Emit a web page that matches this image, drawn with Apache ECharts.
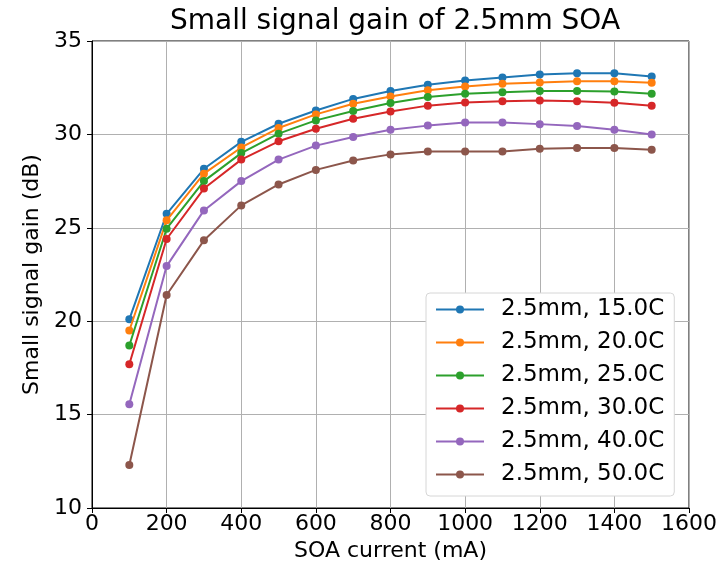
<!DOCTYPE html>
<html>
<head>
<meta charset="utf-8">
<script src="https://cdn.jsdelivr.net/npm/echarts@6/dist/echarts.min.js"></script>
<style>html,body{margin:0;padding:0;background:#fff}#c{width:728px;height:567px}</style>
</head>
<body>
<div id="c"></div>
<script>
const currents = [100,200,300,400,500,600,700,800,900,1000,1100,1200,1300,1400,1500];
const names = ['2.5mm, 15.0C','2.5mm, 20.0C','2.5mm, 25.0C','2.5mm, 30.0C','2.5mm, 40.0C','2.5mm, 50.0C'];
const g15 = [20.1,25.75,28.16,29.6,30.57,31.28,31.9,32.32,32.66,32.89,33.05,33.21,33.28,33.28,33.1];
const g20 = [19.5,25.4,27.9,29.3,30.34,31.07,31.64,32.03,32.36,32.57,32.71,32.78,32.85,32.85,32.77];
const g25 = [18.7,24.95,27.5,29.0,30.04,30.75,31.25,31.68,32.0,32.18,32.25,32.32,32.32,32.3,32.18];
const g30 = [17.7,24.4,27.1,28.65,29.63,30.3,30.84,31.23,31.54,31.71,31.78,31.82,31.77,31.7,31.54];
const g40 = [15.55,22.95,25.93,27.5,28.65,29.4,29.86,30.25,30.47,30.64,30.64,30.55,30.45,30.25,30.0];
const g50 = [12.3,21.4,24.33,26.2,27.32,28.1,28.6,28.93,29.09,29.09,29.09,29.23,29.27,29.27,29.18];
const colors = ['#1f77b4','#ff7f0e','#2ca02c','#d62728','#9467bd','#8c564b'];
const allGains = [g15,g20,g25,g30,g40,g50];

const chart = echarts.init(document.getElementById('c'));
const font = 'DejaVu Sans';
chart.setOption({
  animation: false,
  title: {
    text: 'Small signal gain of 2.5mm SOA',
    left: 390, top: 3, textAlign: 'center',
    textStyle: {fontFamily: font, fontSize: 28, fontWeight: 'normal', color: '#000'}
  },
  grid: {left: 92, top: 41, width: 597, height: 467, show: true, borderColor: '#000', borderWidth: 1, backgroundColor: 'transparent'},
  xAxis: {
    type: 'value', min: 0, max: 1600, interval: 200,
    name: 'SOA current (mA)', nameLocation: 'middle', nameGap: 30,
    nameTextStyle: {fontFamily: font, fontSize: 22, color: '#000'},
    axisLine: {show: true, lineStyle: {color: '#000', width: 1}},
    axisTick: {show: true, length: 5, lineStyle: {color: '#000'}},
    axisLabel: {fontFamily: font, fontSize: 22, color: '#000', margin: 5, formatter: v => String(v)},
    splitLine: {show: true, lineStyle: {color: '#b0b0b0', width: 1}}
  },
  yAxis: {
    type: 'value', min: 10, max: 35, interval: 5,
    name: 'Small signal gain (dB)', nameLocation: 'middle', nameGap: 46,
    nameTextStyle: {fontFamily: font, fontSize: 22, color: '#000'},
    axisLine: {show: true, lineStyle: {color: '#000', width: 1}},
    axisTick: {show: true, length: 5, lineStyle: {color: '#000'}},
    axisLabel: {fontFamily: font, fontSize: 22, color: '#000', margin: 10},
    splitLine: {show: true, lineStyle: {color: '#b0b0b0', width: 1}}
  },
  legend: {
    orient: 'vertical', left: 426, top: 293,
    padding: [5, 10, 10, 9],
    itemWidth: 48, itemHeight: 10, itemGap: 10,
    backgroundColor: '#fff', borderColor: '#d6d6d6', borderWidth: 1, borderRadius: 4,
    textStyle: {fontFamily: font, fontSize: 23, color: '#000', padding: [0,0,0,12], lineHeight: 23},
    data: names
  },
  series: names.map((n, i) => ({
    name: n, type: 'line',
    data: currents.map((c, j) => [c, allGains[i][j]]),
    color: colors[i],
    symbol: 'circle', symbolSize: 8,
    showSymbol: true,
    lineStyle: {width: 2},
    z: 2 + i
  }))
});
</script>
</body>
</html>
